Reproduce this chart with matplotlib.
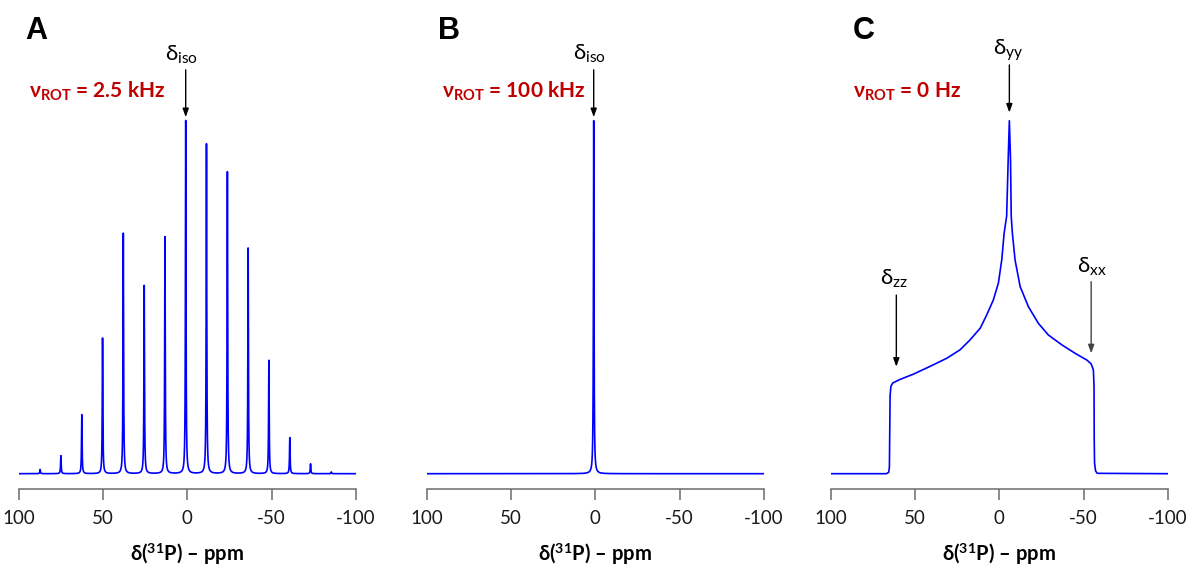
import numpy as np
import matplotlib
matplotlib.use("Agg")
from matplotlib import pyplot as plt

plt.rcParams["font.family"] = ["Lato", "DejaVu Sans"]
plt.rcParams["mathtext.fontset"] = "custom"
plt.rcParams["mathtext.rm"] = "Lato"
plt.rcParams["mathtext.it"] = "Lato:italic"
plt.rcParams["mathtext.bf"] = "Lato:bold"

# panel A: spinning sidebands at 2.5 kHz (position ppm, relative height)
mas_slow_ppm = [87.3, 75.0, 62.6, 50.3, 38.0, 25.6, 13.3, 1.0,
                -11.3, -23.7, -36.0, -48.3, -60.7, -73.0, -85.3]
mas_slow_height = [0.012, 0.051, 0.167, 0.384, 0.681, 0.533, 0.671, 1.0,
                   0.934, 0.855, 0.639, 0.321, 0.102, 0.028, 0.005]

# panel B: fast spinning, single isotropic line
mas_fast_ppm = [1.0]
mas_fast_height = [1.0]

linewidth_ppm = 0.4

# panel C: static powder pattern
static_ppm = [100, 67.0, 65.6, 65.2, 65.0, 64.8, 64.3, 63.2, 58.9, 51.0, 41.1,
              31.2, 23.3, 17.4, 11.4, 7.5, 3.6, 0.6, -1.4, -2.8, -4.3, -5.2,
              -5.9, -6.6, -7.0, -7.7, -9.3, -12.3, -17.2, -23.1, -29.0, -37.0,
              -44.9, -51.8, -54.4, -55.7, -56.1, -56.2, -56.4, -57.0, -58.0, -100]
static_int = [0, 0, 0.004, 0.02, 0.12, 0.22, 0.248, 0.257, 0.267, 0.282, 0.304,
              0.327, 0.351, 0.379, 0.412, 0.450, 0.492, 0.540, 0.606, 0.681, 0.73, 0.888,
              1.0, 0.888, 0.73, 0.681, 0.605, 0.530, 0.473, 0.426, 0.393, 0.365,
              0.341, 0.322, 0.311, 0.294, 0.246, 0.10, 0.03, 0.008, 0.001, 0]

ticks = [100, 50, 0, -50, -100]


def spectrum(x, centers, heights, fwhm):
    hw = fwhm / 2
    y = np.zeros_like(x)
    for c, h in zip(centers, heights):
        y += h * hw**2 / (hw**2 + (x - c) ** 2)
    return y


x = np.linspace(100, -100, 20001)

fig = plt.figure(figsize=(11.96, 5.69), dpi=100)
W, H = 1196, 569
lefts = [18.7, 426.7, 830.7]
axes = []
for left in lefts:
    ax = fig.add_axes([left / W, (H - 489.3) / H, 337.4 / W, 389.3 / H])
    ax.set_xlim(100, -100)
    ax.set_ylim(-0.0442, 1.0586)
    for s in ["top", "left", "right"]:
        ax.spines[s].set_visible(False)
    ax.spines["bottom"].set_color("#6b6b6b")
    ax.spines["bottom"].set_linewidth(1.1)
    ax.set_yticks([])
    ax.set_xticks(ticks)
    ax.set_xticklabels([str(t) for t in ticks])
    ax.tick_params(axis="x", direction="out", length=7.7, width=1.1,
                   color="#6b6b6b", labelsize=13.5, pad=7.5, labelcolor="#1a1a1a")
    ax.set_xlabel(r"δ($^{\mathbf{31}}$P) – ppm", fontsize=14.5, fontweight="bold")
    ax.xaxis.set_label_coords(0.5, -0.134)
    axes.append(ax)

blue = "#0000ff"
red = "#c00000"
axA, axB, axC = axes

axA.plot(x, spectrum(x, mas_slow_ppm, mas_slow_height, linewidth_ppm), color=blue, lw=1.2)
axB.plot(x, spectrum(x, mas_fast_ppm, mas_fast_height, linewidth_ppm), color=blue, lw=1.2)
axC.plot(static_ppm, static_int, color=blue, lw=1.2)

arrow = dict(arrowstyle="-|>,head_length=0.5,head_width=0.18", color="black", lw=1.0,
             shrinkA=0, shrinkB=0)


def label_arrow(ax, text, tx, ty, ax_x, y0, y1, color="black"):
    ax.annotate("", xy=(ax_x, y1), xytext=(ax_x, y0),
                arrowprops=dict(arrow, color=color), annotation_clip=False)
    ax.text(tx, ty, text, ha="center", va="baseline", fontsize=16, clip_on=False)


label_arrow(axA, r"$\mathrm{\delta}_{\mathrm{iso}}$", 3.3, 1.170, 1.0, 1.144, 1.010)
label_arrow(axB, r"$\mathrm{\delta}_{\mathrm{iso}}$", 3.4, 1.172, 1.0, 1.144, 1.010)
label_arrow(axC, r"$\mathrm{\delta}_{\mathrm{yy}}$", -5.4, 1.186, -5.9, 1.158, 1.023)
label_arrow(axC, r"$\mathrm{\delta}_{\mathrm{zz}}$", 62.5, 0.534, 61.1, 0.506, 0.303)
label_arrow(axC, r"$\mathrm{\delta}_{\mathrm{xx}}$", -54.9, 0.569, -54.4, 0.544, 0.341,
            color="#444444")

for ax, xpos, txt in [(axA, 93.8, "2.5 kHz"), (axB, 91.2, "100 kHz"), (axC, 86.5, "0 Hz")]:
    ax.text(xpos, 1.064, r"$\mathbf{\nu_{ROT}}$ = " + txt, color=red, fontsize=15,
            fontweight="bold", ha="left", va="baseline", clip_on=False)

for xl, letter in [(25, "A"), (438, "B"), (853, "C")]:
    fig.text(xl / W, (H - 39) / H, letter, fontsize=22, fontweight="bold",
             family="Liberation Sans", ha="left", va="baseline")

fig.savefig("out.png", dpi=100)
